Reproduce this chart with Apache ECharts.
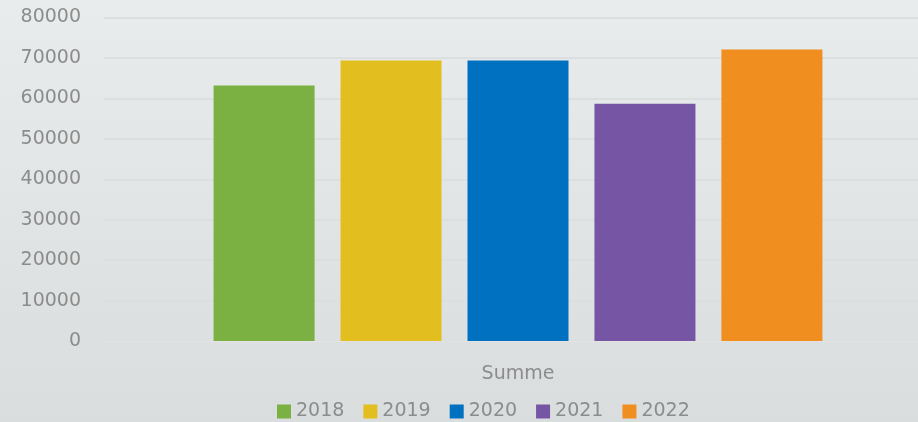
<!DOCTYPE html>
<html>
<head>
<meta charset="utf-8">
<script src="https://cdn.jsdelivr.net/npm/echarts@6/dist/echarts.min.js"></script>
<style>
html,body{margin:0;padding:0;}
#c{width:918px;height:422px;}
</style>
</head>
<body>
<div id="c"></div>
<script>
const categories = ['Summe'];
const seriesNames = ['2018', '2019', '2020', '2021', '2022'];
const seriesValues = [[63200], [69350], [69350], [58700], [72100]];
const colors = ['#7ab142', '#e3be1f', '#0070c0', '#7656a4', '#f08e1f'];
const yTicks = { min: 0, max: 80000, interval: 10000 };

const chart = echarts.init(document.getElementById('c'), null, { renderer: 'canvas' });
const font = '"DejaVu Sans", sans-serif';
const textColor = '#8c8c8c';
const splitStyle = { lineStyle: { color: '#dcdfdf', width: 2 } };
const axisLineStyle = { show: true, lineStyle: { color: '#e4e2e2', width: 1 } };
chart.setOption({
  backgroundColor: {
    type: 'linear', x: 0, y: 0, x2: 0, y2: 1,
    colorStops: [{ offset: 0, color: '#e9ecec' }, { offset: 1, color: '#dadddd' }]
  },
  animation: false,
  grid: [
    { left: 104, top: 17.5, width: 14, height: 323.5 },
    { left: 118, top: 17.5, right: 0, height: 323.5 }
  ],
  legend: {
    bottom: -4, left: 272,
    itemWidth: 14, itemHeight: 14, itemGap: 19, icon: 'rect',
    textStyle: { color: textColor, fontSize: 19, fontFamily: font },
    data: seriesNames
  },
  xAxis: [
    { gridIndex: 0, type: 'category', data: [''], axisTick: { show: false },
      axisLine: axisLineStyle, axisLabel: { show: false } },
    { gridIndex: 1, type: 'category', data: categories, axisTick: { show: false },
      axisLine: axisLineStyle,
      axisLabel: { color: textColor, fontSize: 19, fontFamily: font, margin: 24 } }
  ],
  yAxis: [
    { gridIndex: 0, type: 'value', min: yTicks.min, max: yTicks.max, interval: yTicks.interval,
      axisLine: { show: false }, axisTick: { show: false },
      axisLabel: { color: textColor, fontSize: 19, fontFamily: font, margin: 23, formatter: v => String(v) },
      splitLine: splitStyle },
    { gridIndex: 1, type: 'value', min: yTicks.min, max: yTicks.max, interval: yTicks.interval,
      axisLine: { show: false }, axisTick: { show: false }, axisLabel: { show: false },
      splitLine: splitStyle }
  ],
  series: seriesNames.map((n, i) => ({
    name: n, type: 'bar', data: seriesValues[i], xAxisIndex: 1, yAxisIndex: 1,
    barWidth: 101, barGap: '25.7%',
    itemStyle: { color: colors[i] }
  }))
});
</script>
</body>
</html>
